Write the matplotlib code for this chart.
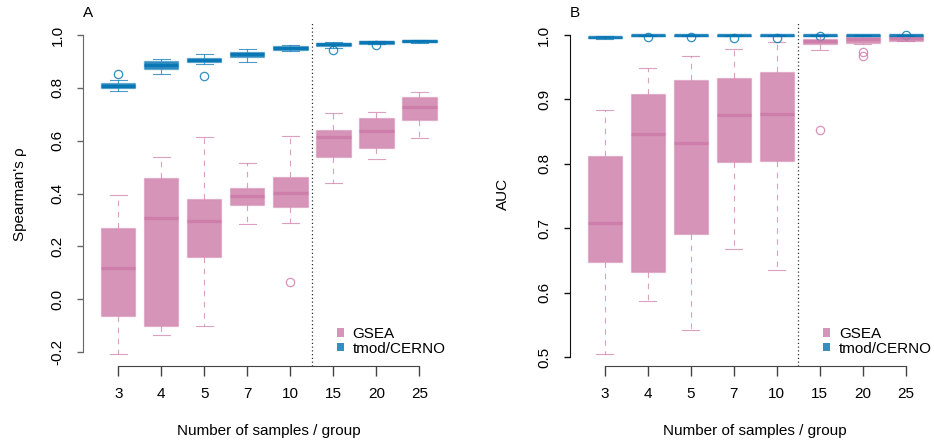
# Spearman / AUC boxplots: GSEA vs tmod/CERNO by sample size
import matplotlib
matplotlib.use("Agg")
import matplotlib.pyplot as plt
from matplotlib.patches import Patch

plt.rcParams["font.family"] = ["Liberation Sans", "DejaVu Sans"]
plt.rcParams["font.size"] = 11

# ------------------------------------------------------------
# data
# ------------------------------------------------------------
sizes = ["3", "4", "5", "7", "10", "15", "20", "25"]

# panel A, Spearman's rho
rho_gsea_hi  = [0.393, 0.537, 0.615, 0.515, 0.617, 0.703, 0.710, 0.783]
rho_gsea_q3  = [0.271, 0.457, 0.378, 0.419, 0.461, 0.639, 0.684, 0.764]
rho_gsea_med = [0.120, 0.306, 0.297, 0.391, 0.403, 0.615, 0.636, 0.726]
rho_gsea_q1  = [-0.064, -0.100, 0.158, 0.355, 0.350, 0.539, 0.573, 0.678]
rho_gsea_lo  = [-0.208, -0.136, -0.100, 0.284, 0.290, 0.440, 0.531, 0.612]
rho_gsea_out = [[], [], [], [], [0.064], [], [], []]

rho_tmod_hi  = [0.830, 0.908, 0.927, 0.948, 0.963, 0.973, 0.978, 0.981]
rho_tmod_q3  = [0.820, 0.900, 0.913, 0.937, 0.958, 0.971, 0.976, 0.980]
rho_tmod_med = [0.808, 0.885, 0.906, 0.927, 0.951, 0.966, 0.972, 0.976]
rho_tmod_q1  = [0.798, 0.870, 0.899, 0.916, 0.943, 0.960, 0.967, 0.972]
rho_tmod_lo  = [0.788, 0.853, 0.889, 0.899, 0.939, 0.950, 0.965, 0.970]
rho_tmod_out = [[0.852], [], [0.845], [], [], [0.943], [0.961], []]

# panel B, AUC
auc_gsea_hi  = [0.883, 0.949, 0.968, 0.978, 0.989, 0.9995, 1.000, 1.000]
auc_gsea_q3  = [0.812, 0.908, 0.930, 0.933, 0.942, 0.994, 0.9975, 0.9975]
auc_gsea_med = [0.708, 0.847, 0.832, 0.876, 0.877, 0.991, 0.993, 0.995]
auc_gsea_q1  = [0.648, 0.633, 0.691, 0.803, 0.804, 0.9865, 0.987, 0.991]
auc_gsea_lo  = [0.505, 0.587, 0.542, 0.668, 0.635, 0.977, 0.986, 0.990]
auc_gsea_out = [[], [], [], [], [], [0.852], [0.974, 0.9674], []]

auc_tmod_hi  = [0.998, 1.000, 1.000, 1.000, 1.000, 1.000, 1.000, 1.000]
auc_tmod_q3  = [0.9975, 1.000, 1.000, 1.000, 1.000, 1.000, 1.000, 1.000]
auc_tmod_med = [0.9965, 0.9995, 0.9995, 0.9995, 0.9995, 0.9998, 0.9998, 0.9998]
auc_tmod_q1  = [0.9955, 0.9985, 0.9988, 0.9988, 0.9988, 0.999, 0.999, 0.999]
auc_tmod_lo  = [0.9945, 0.998, 0.998, 0.998, 0.998, 0.9985, 0.9985, 0.9985]
auc_tmod_out = [[], [0.9964], [0.9974], [0.995], [0.9959], [0.9984], [], [0.9995]]

PINK = "#CC79A7"
BLUE = "#0072B2"
ALPHA = 0.8


def rgba(c, a):
    return matplotlib.colors.to_rgba(c, a)


def make_stats(lo, q1, med, q3, hi, out):
    return [dict(whislo=a, q1=b, med=c, q3=d, whishi=e, fliers=f)
            for a, b, c, d, e, f in zip(lo, q1, med, q3, hi, out)]


def draw_boxes(ax, stats, color):
    pos = list(range(1, len(stats) + 1))
    ax.bxp(stats, positions=pos, widths=0.8, capwidths=0.4,
           patch_artist=True, manage_ticks=False,
           boxprops=dict(facecolor=rgba(color, ALPHA),
                         edgecolor=rgba(color, 0.35), linewidth=1.0),
           medianprops=dict(color=rgba(color, 0.8), linewidth=2.4,
                            solid_capstyle="butt"),
           whiskerprops=dict(color=rgba(color, 0.7), linewidth=0.8,
                             linestyle=(0, (5, 5))),
           capprops=dict(color=rgba(color, 0.7), linewidth=0.8),
           flierprops=dict(marker="o", markerfacecolor="none",
                           markeredgecolor=rgba(color, 0.8),
                           markersize=6, markeredgewidth=0.9))


def style_axis(ax, yticks, ylim, ycolor):
    ax.set_xlim(0.18, 8.82)
    ax.set_ylim(*ylim)
    for s in ["top", "right"]:
        ax.spines[s].set_visible(False)
    ax.spines["left"].set_bounds(yticks[0], yticks[-1])
    ax.spines["left"].set_color(ycolor)
    ax.spines["bottom"].set_bounds(1, 8)
    ax.spines["bottom"].set_color("#444444")
    ax.set_yticks(yticks)
    ax.set_yticklabels([f"{v:.1f}" for v in yticks], rotation=90, va="center")
    ax.set_xticks(range(1, 9))
    ax.set_xticklabels(sizes)
    ax.tick_params(axis="y", length=6 / 1.389, width=1.0, color=ycolor, pad=9)
    ax.tick_params(axis="x", length=10 / 1.389, width=1.0, color="#444444", pad=8)
    ax.axvline(5.5, color="#333333", linestyle=(0, (1, 2)), linewidth=0.9)
    ax.legend(handles=[Patch(facecolor=rgba(PINK, ALPHA), edgecolor="none", label="GSEA"),
                       Patch(facecolor=rgba(BLUE, ALPHA), edgecolor="none", label="tmod/CERNO")],
              loc="lower left", bbox_to_anchor=(0.667, 0.012), frameon=False,
              handlelength=0.46, handleheight=0.46, handletextpad=0.57,
              labelspacing=0.05, borderaxespad=0, fontsize=11)


fig = plt.figure(figsize=(9.34, 4.42), dpi=100)
W, H = 934, 442
axA = fig.add_axes([83 / W, (H - 366) / H, 371.6 / W, 344.3 / H])
axB = fig.add_axes([569.5 / W, (H - 366) / H, 371.6 / W, 344.3 / H])

draw_boxes(axA, make_stats(rho_gsea_lo, rho_gsea_q1, rho_gsea_med, rho_gsea_q3, rho_gsea_hi, rho_gsea_out), PINK)
draw_boxes(axA, make_stats(rho_tmod_lo, rho_tmod_q1, rho_tmod_med, rho_tmod_q3, rho_tmod_hi, rho_tmod_out), BLUE)
style_axis(axA, [-0.2, 0.0, 0.2, 0.4, 0.6, 0.8, 1.0], (-0.2528, 1.0503), "#666666")

draw_boxes(axB, make_stats(auc_gsea_lo, auc_gsea_q1, auc_gsea_med, auc_gsea_q3, auc_gsea_hi, auc_gsea_out), PINK)
draw_boxes(axB, make_stats(auc_tmod_lo, auc_tmod_q1, auc_tmod_med, auc_tmod_q3, auc_tmod_hi, auc_tmod_out), BLUE)
style_axis(axB, [0.5, 0.6, 0.7, 0.8, 0.9, 1.0], (0.4865, 1.0206), "#111111")

fig.text(20 / W, 1 - 194 / H, "Spearman's \u03c1", rotation=90, ha="center", va="center")
fig.text(503 / W, 1 - 194 / H, "AUC", rotation=90, ha="center", va="center")
fig.text(269 / W, 1 - 431 / H, "Number of samples / group", ha="center", va="center")
fig.text(755 / W, 1 - 431 / H, "Number of samples / group", ha="center", va="center")
fig.text(88 / W, 1 - 13 / H, "A", ha="center", va="center", fontsize=11)
fig.text(575 / W, 1 - 13 / H, "B", ha="center", va="center", fontsize=11)

fig.savefig("out.png", dpi=100)
